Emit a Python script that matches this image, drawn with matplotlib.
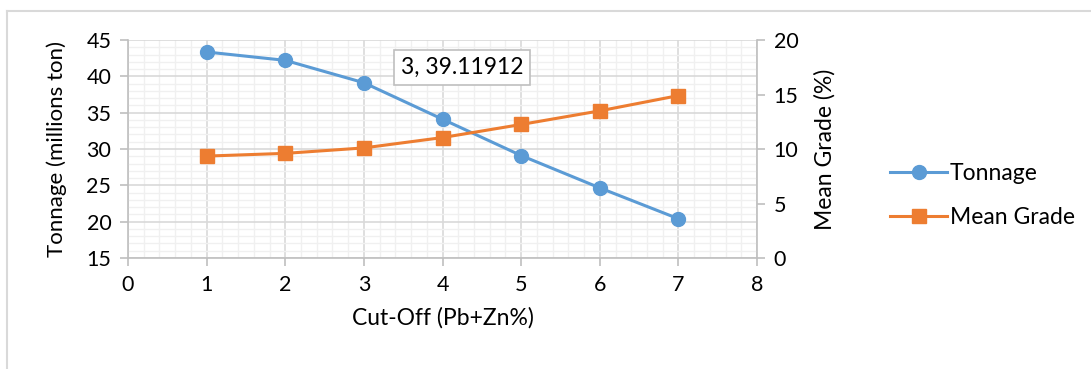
import matplotlib.pyplot as plt
from matplotlib.ticker import MultipleLocator
from matplotlib.lines import Line2D

plt.rcParams['font.family'] = ['Lato', 'DejaVu Sans']

cut_off = [1, 2, 3, 4, 5, 6, 7]
tonnage = [43.35, 42.2, 39.11912, 34.1, 29.1, 24.65, 20.4]
mean_grade = [9.35, 9.6, 10.1, 11.05, 12.25, 13.5, 14.9]

blue = '#5B9BD5'
orange = '#ED7D31'
axis_grey = '#BFBFBF'

fig = plt.figure(figsize=(10.91, 3.69), dpi=100)
ax = fig.add_axes([0.1173, 0.3008, 0.5766, 0.5908])
ax2 = ax.twinx()

# chart area frame (left and top edges visible)
fig.add_artist(Line2D([0.0064, 0.0064], [0, 0.970], color='#D9D9D9', lw=1.5,
                      transform=fig.transFigure))
fig.add_artist(Line2D([0.0064, 1.0], [0.970, 0.970], color='#D9D9D9', lw=1.5,
                      transform=fig.transFigure))

ax.set_xlim(0, 8)
ax.set_ylim(15, 45)
ax2.set_ylim(0, 20)

ax.xaxis.set_major_locator(MultipleLocator(1))
ax.xaxis.set_minor_locator(MultipleLocator(0.2))
ax.yaxis.set_major_locator(MultipleLocator(5))
ax.yaxis.set_minor_locator(MultipleLocator(1))
ax2.yaxis.set_major_locator(MultipleLocator(5))

ax.grid(which='major', color='#D9D9D9', lw=1.2)
ax.grid(which='minor', color='#F0F0F0', lw=1.0)
ax.set_axisbelow(True)

for a in (ax, ax2):
    for s in a.spines.values():
        s.set_visible(False)
ax.spines['left'].set_visible(True)
ax.spines['bottom'].set_visible(True)
ax2.spines['right'].set_visible(True)
for s in (ax.spines['left'], ax.spines['bottom'], ax2.spines['right']):
    s.set_color(axis_grey)
    s.set_linewidth(1.2)

ax.tick_params(which='major', length=6, width=1.2, color=axis_grey, labelsize=15.5, pad=6)
ax.tick_params(which='minor', length=0)
ax2.tick_params(which='major', length=6, width=1.2, color=axis_grey, labelsize=15.5, pad=6)
ax2.tick_params(which='minor', length=0)

l1, = ax.plot(cut_off, tonnage, color=blue, lw=2.2, marker='o', ms=10, label='Tonnage')
l2, = ax2.plot(cut_off, mean_grade, color=orange, lw=2.2, marker='s', ms=9.5, label='Mean Grade')

ax.set_xlabel('Cut-Off (Pb+Zn%)', fontsize=16.5, labelpad=9)
ax.set_ylabel('Tonnage (millions ton)', fontsize=16, labelpad=14)
ax2.set_ylabel('Mean Grade (%)', fontsize=16.5, labelpad=11)

# data label for the third tonnage point
ax.text(0.531, 0.875, f'{cut_off[2]}, {tonnage[2]}', transform=ax.transAxes,
        ha='center', va='center', fontsize=16.5,
        bbox=dict(boxstyle='square,pad=0.3', fc='white', ec='#BFBFBF', lw=1.2))

fig.legend(handles=[l1, l2], loc='center left', bbox_to_anchor=(0.797, 0.47),
           frameon=False, fontsize=16.5, handlelength=2.5, labelspacing=1.0,
           handletextpad=0.1)

fig.savefig('out.png', dpi=100)
